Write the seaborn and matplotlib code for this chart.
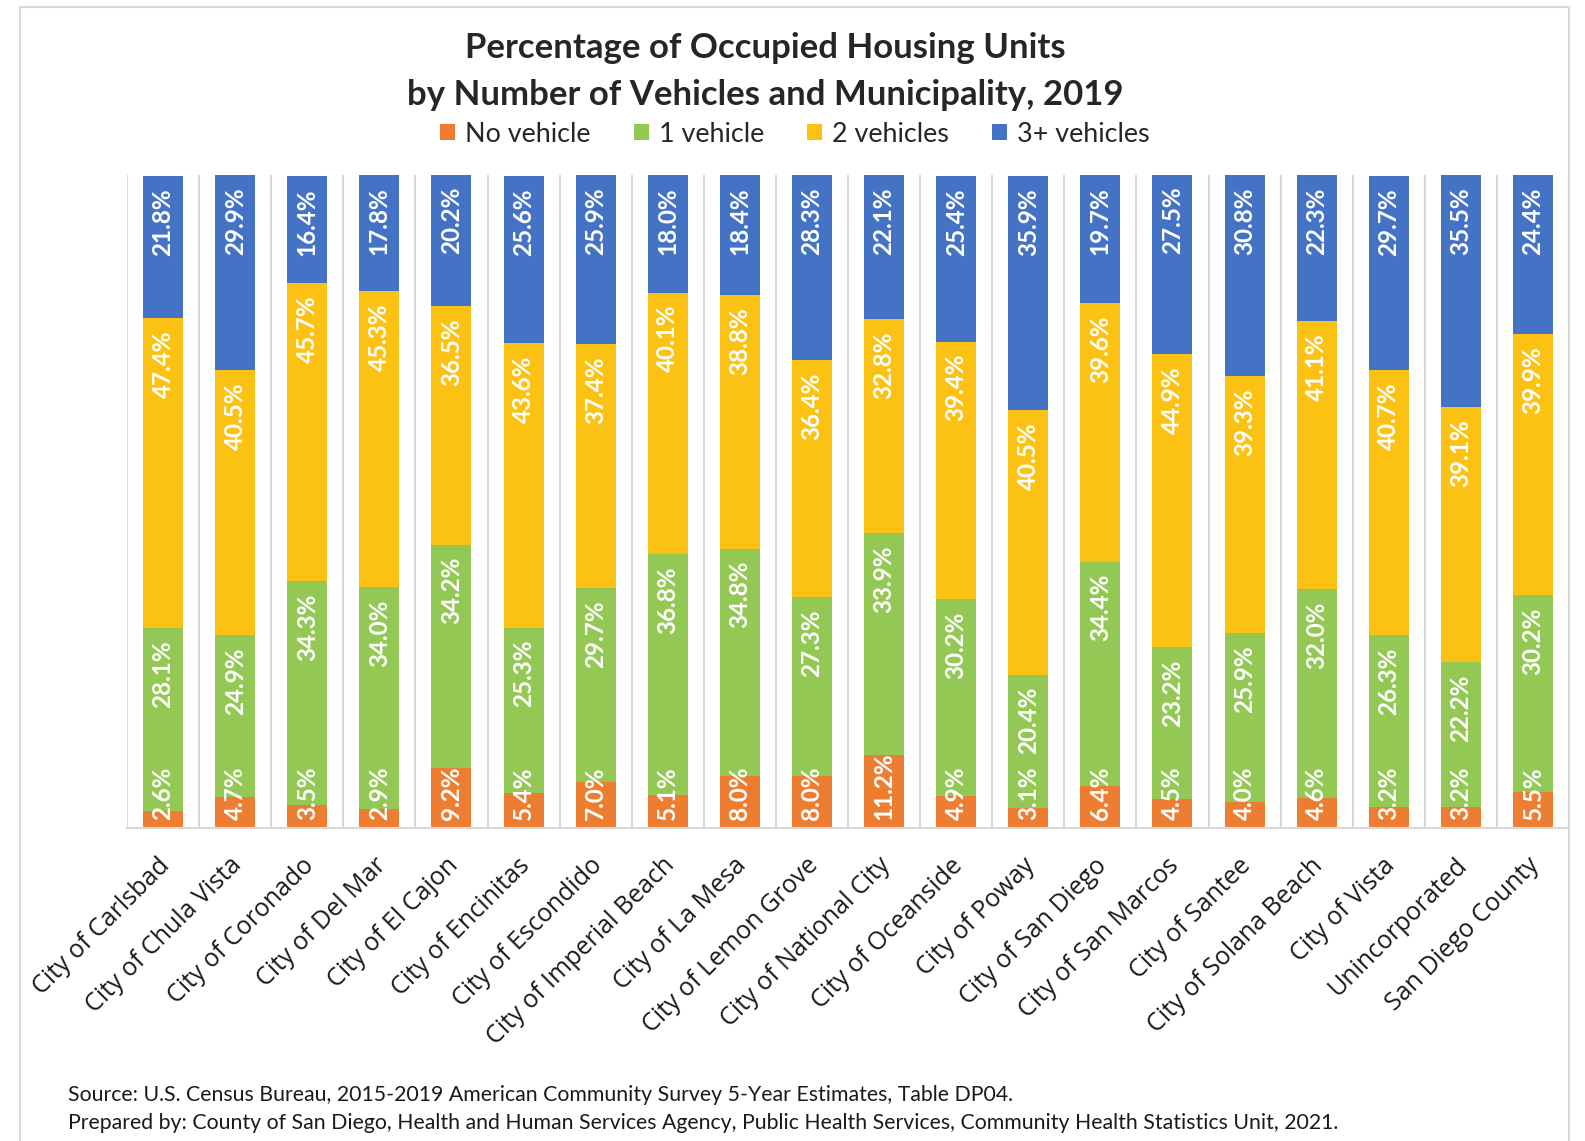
import matplotlib
matplotlib.use("Agg")
import matplotlib.pyplot as plt
from matplotlib.patches import Rectangle, Patch
from matplotlib.transforms import ScaledTranslation
import seaborn as sns
import numpy as np
import pandas as pd

categories = ["City of Carlsbad", "City of Chula Vista", "City of Coronado", "City of Del Mar",
              "City of El Cajon", "City of Encinitas", "City of Escondido", "City of Imperial Beach",
              "City of La Mesa", "City of Lemon Grove", "City of National City", "City of Oceanside",
              "City of Poway", "City of San Diego", "City of San Marcos", "City of Santee",
              "City of Solana Beach", "City of Vista", "Unincorporated", "San Diego County"]
no_vehicle = [2.6, 4.7, 3.5, 2.9, 9.2, 5.4, 7.0, 5.1, 8.0, 8.0, 11.2, 4.9, 3.1, 6.4, 4.5, 4.0, 4.6, 3.2, 3.2, 5.5]
one_vehicle = [28.1, 24.9, 34.3, 34.0, 34.2, 25.3, 29.7, 36.8, 34.8, 27.3, 33.9, 30.2, 20.4, 34.4, 23.2, 25.9, 32.0, 26.3, 22.2, 30.2]
two_vehicles = [47.4, 40.5, 45.7, 45.3, 36.5, 43.6, 37.4, 40.1, 38.8, 36.4, 32.8, 39.4, 40.5, 39.6, 44.9, 39.3, 41.1, 40.7, 39.1, 39.9]
three_plus = [21.8, 29.9, 16.4, 17.8, 20.2, 25.6, 25.9, 18.0, 18.4, 28.3, 22.1, 25.4, 35.9, 19.7, 27.5, 30.8, 22.3, 29.7, 35.5, 24.4]
series_names = ["No vehicle", "1 vehicle", "2 vehicles", "3+ vehicles"]
colors = ["#ED7D31", "#92C853", "#FBC113", "#4472C4"]

title_lines = ["Percentage of Occupied Housing Units",
               "by Number of Vehicles and Municipality, 2019"]
source_lines = ["Source: U.S. Census Bureau, 2015-2019 American Community Survey 5-Year Estimates, Table DP04.",
                "Prepared by: County of San Diego, Health and Human Services Agency, Public Health Services, Community Health Statistics Unit, 2021."]

sns.set_theme(style="white")
plt.rcParams['font.family'] = ['Lato', 'DejaVu Sans']

series = [no_vehicle, one_vehicle, two_vehicles, three_plus]
vals = np.array(series)
cum = np.cumsum(vals, axis=0)
bottoms = cum - vals

W, H = 1585, 1141
fig = plt.figure(figsize=(W / 100, H / 100), dpi=100)
ax_left, ax_right, ax_top, ax_bottom = 127, 1569, 175, 828
ax = fig.add_axes([ax_left / W, 1 - ax_bottom / H, (ax_right - ax_left) / W, (ax_bottom - ax_top) / H])

df = pd.DataFrame({"cat": categories})
for i in range(3, -1, -1):
    df["top"] = cum[i]
    sns.barplot(data=df, x="cat", y="top", color=colors[i], saturation=1, width=0.556,
                linewidth=0, ax=ax, zorder=2)

ax.set_ylim(0, 100)
ax.set_xlim(-0.5, len(categories) - 0.5)

# labels: anchored at segment top; pushed up if they would run past segment bottom
texts = []
for i in range(4):
    for j in range(len(categories)):
        t = ax.text(j, cum[i][j] - 1.9, f"{vals[i][j]:.1f}%", rotation=90, ha="center", va="top",
                    color="white", fontsize=17.5, fontweight="bold", zorder=3)
        texts.append((t, i, j))
fig.canvas.draw()
renderer = fig.canvas.get_renderer()
px_per_unit = (ax_bottom - ax_top) / 100.0
for t, i, j in texts:
    h_units = t.get_window_extent(renderer).height / px_per_unit
    y_top = max(cum[i][j] - 1.9, bottoms[i][j] + 1.2 + h_units)
    t.set_y(y_top)

ax.set_yticks([])
ax.set_xlabel("")
ax.set_ylabel("")
ax.set_xticks(np.arange(-0.5, len(categories), 1), minor=True)
ax.grid(which="minor", axis="x", color="#D9D9D9", linewidth=1.5, zorder=0)
ax.tick_params(axis="x", which="both", length=0)
for s in ["left", "right", "top"]:
    ax.spines[s].set_visible(False)
ax.spines["bottom"].set_color("#D9D9D9")
ax.spines["bottom"].set_linewidth(1.5)
ax.set_xticks(range(len(categories)))
ax.set_xticklabels(categories, rotation=45, ha="right", rotation_mode="anchor",
                   fontsize=18, family=["Open Sans", "DejaVu Sans"], color="#1a1a1a")
ax.tick_params(axis="x", pad=18)
shift = ScaledTranslation(-6 / 100, 0, fig.dpi_scale_trans)
for lab in ax.get_xticklabels():
    lab.set_transform(lab.get_transform() + shift)

handles = [Patch(facecolor=c, edgecolor="none", label=n) for c, n in zip(colors, series_names)]
fig.legend(handles=handles, loc="center", bbox_to_anchor=(795 / W, 1 - 134 / H), ncol=4,
           frameon=False, fontsize=19.4, handlelength=0.56, handleheight=0.56, handletextpad=0.37,
           columnspacing=1.6, labelcolor="#262626")

fig.text(765 / W, 1 - 48 / H, title_lines[0], ha="center", va="center", fontsize=25,
         fontweight="bold", color="#262626")
fig.text(765 / W, 1 - 95 / H, title_lines[1], ha="center", va="center", fontsize=25,
         fontweight="bold", color="#262626")

fig.text(68 / W, 1 - 1095 / H, source_lines[0], ha="left", va="center", fontsize=15.3, color="#1a1a1a")
fig.text(68 / W, 1 - 1123 / H, source_lines[1], ha="left", va="center", fontsize=15.3, color="#1a1a1a")

fig.patches.append(Rectangle((20 / W, -0.01), (1569 - 20) / W, 1.01 - 7 / H, transform=fig.transFigure,
                             fill=False, edgecolor="#D9D9D9", linewidth=1.5, zorder=0))

fig.savefig("out.png", dpi=100, facecolor="white")
